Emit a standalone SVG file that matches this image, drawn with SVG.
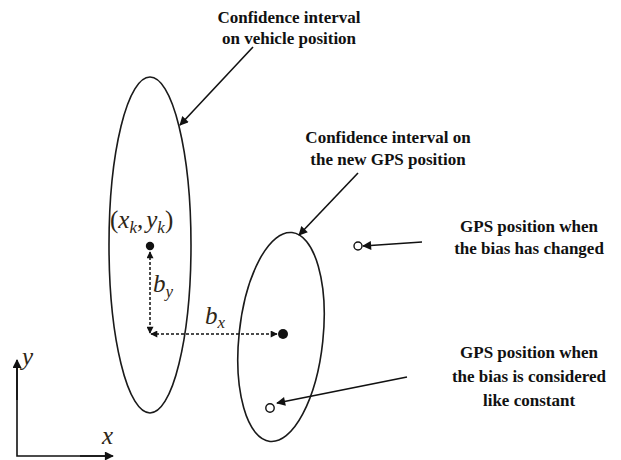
<svg xmlns="http://www.w3.org/2000/svg" width="621" height="460" viewBox="0 0 621 460">
<defs>
<style>
.lbl{font-family:"Liberation Serif","Times New Roman",serif;font-weight:bold;font-size:17px;fill:#111;text-anchor:middle}
.math{font-family:"Liberation Serif","Times New Roman",serif;font-style:italic;font-size:25px;fill:#2e2616}
.sub{font-size:17px}
.up{font-style:normal}
.ell{fill:none;stroke:#1a1a1a;stroke-width:1.6}
.lead{fill:none;stroke:#111;stroke-width:1.6}
.dash{fill:none;stroke:#111;stroke-width:1.5;stroke-dasharray:3 2}
.axis{fill:none;stroke:#111;stroke-width:1.6}
.open{fill:#fff;stroke:#111;stroke-width:1.4}
</style>
<marker id="ah" viewBox="0 0 10 10" refX="9" refY="5" markerWidth="11" markerHeight="9" markerUnits="userSpaceOnUse" orient="auto">
<path d="M0,0 L10,5 L0,10 Z" fill="#111"/>
</marker>
<marker id="ds" viewBox="0 0 10 10" refX="9" refY="5" markerWidth="8" markerHeight="7" markerUnits="userSpaceOnUse" orient="auto-start-reverse">
<path d="M0,0 L10,5 L0,10 Z" fill="#111"/>
</marker>
</defs>

<g id="vehicle-ellipse">
<ellipse class="ell" cx="150" cy="245" rx="41" ry="168"/>
</g>
<g id="gps-ellipse">
<ellipse class="ell" cx="281" cy="337" rx="42" ry="105" transform="rotate(6 281 337)"/>
</g>

<g id="vehicle-point">
<circle cx="150" cy="246" r="4.2" fill="#111"/>
<text class="math" x="110" y="228"><tspan class="up">(</tspan>x<tspan class="sub" dy="5">k</tspan><tspan class="up" dy="-5">,</tspan><tspan dx="3">y</tspan><tspan class="sub" dy="5">k</tspan><tspan class="up" dy="-5">)</tspan></text>
</g>
<g id="gps-new-point">
<circle cx="283" cy="334" r="5" fill="#111"/>
</g>
<g id="gps-changed-point">
<circle class="open" cx="358" cy="246" r="4"/>
</g>
<g id="gps-constant-point">
<circle class="open" cx="270" cy="408" r="4.2"/>
</g>

<g id="labels">
<text class="lbl" x="289" y="23">Confidence interval</text>
<text class="lbl" x="289" y="44">on vehicle position</text>
<text class="lbl" x="388" y="143">Confidence interval on</text>
<text class="lbl" x="388" y="165">the new GPS position</text>
<text class="lbl" x="529" y="232">GPS position when</text>
<text class="lbl" x="529" y="254">the bias has changed</text>
<text class="lbl" x="529" y="358">GPS position when</text>
<text class="lbl" x="529" y="382">the bias is considered</text>
<text class="lbl" x="529" y="406">like constant</text>
<text class="math" x="153" y="292">b<tspan class="sub" dy="5">y</tspan></text>
<text class="math" x="205" y="324">b<tspan class="sub" dy="4">x</tspan></text>
<text class="math" x="22" y="365">y</text>
<text class="math" x="102" y="444">x</text>
</g>

<g id="connectors">
<line class="lead" x1="253" y1="47" x2="180" y2="125" marker-end="url(#ah)"/>
<line class="lead" x1="358" y1="173" x2="299" y2="235" marker-end="url(#ah)"/>
<line class="lead" x1="422" y1="242" x2="363" y2="246" marker-end="url(#ah)"/>
<line class="lead" x1="407" y1="377" x2="277" y2="403" marker-end="url(#ah)"/>
<line class="dash" x1="150" y1="252" x2="150" y2="333" marker-start="url(#ds)" marker-end="url(#ds)"/>
<line class="dash" x1="151" y1="334" x2="277" y2="334" marker-start="url(#ds)" marker-end="url(#ds)"/>
<polyline class="axis" points="17,361 17,456 112,456"/>
<line class="axis" x1="17" y1="400" x2="17" y2="360" marker-end="url(#ah)"/>
<line class="axis" x1="80" y1="456" x2="113" y2="456" marker-end="url(#ah)"/>
</g>
</svg>
